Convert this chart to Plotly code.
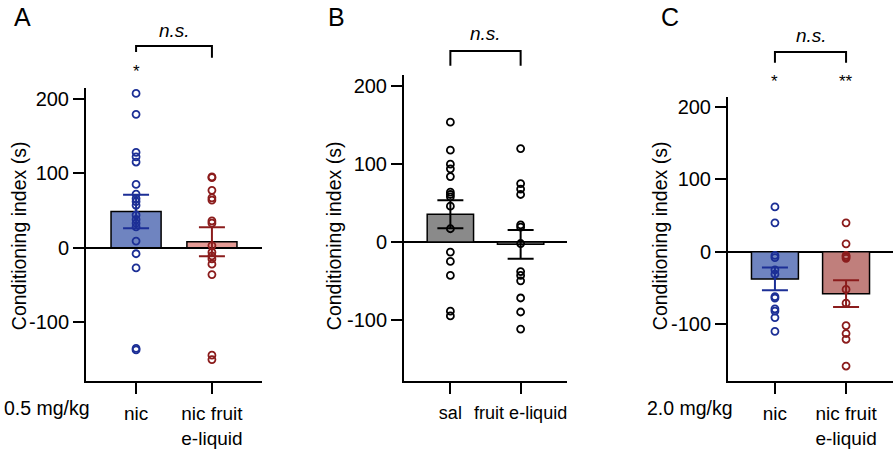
import plotly.graph_objects as go

# ---------------- data ----------------
# Panel A (0.5 mg/kg)
a_categories = ["nic", "nic fruit<br>e-liquid"]
a_nic = [207, 179, 128, 122, 115, 85, 72, 66, 62, 57, 44, 38, 33, 28, 9, -8, -27, -135, -137]
a_nicfruit = [95, 94, 77, 67, 64, 36, 33, 3, -6, -11, -15, -22, -36, -144, -150]
a_means = [48.7, 8.0]
a_sems = [22.5, 19.5]

# Panel B
b_categories = ["sal", "fruit e-liquid"]
b_sal = [154, 118, 100, 94, 84, 64, 61, 58, 46, 17, -13, -25, -43, -89, -95]
b_fruit = [120, 75, 68, 61, 22, 19, -2, -38, -43, -50, -72, -90, -112]
b_means = [35.7, -3.0]
b_sems = [18.0, 18.5]

# Panel C (2.0 mg/kg)
c_categories = ["nic", "nic fruit<br>e-liquid"]
c_nic = [62, 40, -5, -8, -25, -31, -62, -64, -79, -82, -91, -110]
c_nicfruit = [40, 11, -5, -7, -9, -52, -71, -102, -113, -121, -158]
c_means = [-37.5, -58.0]
c_sems = [15.8, 18.5]

y_ticks = [-100, 0, 100, 200]
y_ticktext = ["-100", "0", "100", "200"]
y_range = [-179, 214]
x_range = [-0.66, 1.66]

FONT = "Liberation Sans, Arial, Helvetica, sans-serif"
BLUE_M = "#1c2f96"
RED_M = "#8b1c1c"
BLUE_BAR = "#6f84c0"
RED_BAR_A = "#e59c96"
RED_BAR_C = "#c07f7c"
GRAY_BAR = "#8a8a8a"

W, H = 893, 449


def px_x(p):
    return p / W


def px_y(p):
    return 1 - p / H


fig = go.Figure()

panels = [
    dict(xa="x", ya="y", cats=a_categories, pts=[a_nic, a_nicfruit], means=a_means, sems=a_sems,
         bar_colors=[BLUE_BAR, RED_BAR_A], mk_colors=[BLUE_M, RED_M], err_colors=[BLUE_M, RED_M],
         xdom=[86, 262], ydom=[388, 89], catfont=19),
    dict(xa="x2", ya="y2", cats=b_categories, pts=[b_sal, b_fruit], means=b_means, sems=b_sems,
         bar_colors=[GRAY_BAR, GRAY_BAR], mk_colors=["#000000", "#000000"], err_colors=["#000000", "#000000"],
         xdom=[404, 567], ydom=[388, 76], catfont=18),
    dict(xa="x3", ya="y3", cats=c_categories, pts=[c_nic, c_nicfruit], means=c_means, sems=c_sems,
         bar_colors=[BLUE_BAR, RED_BAR_C], mk_colors=[BLUE_M, RED_M], err_colors=[BLUE_M, RED_M],
         xdom=[728, 893], ydom=[388, 98], catfont=19),
]

for i, p in enumerate(panels):
    xs = [0, 1]
    fig.add_trace(go.Bar(
        x=xs, y=p["means"], xaxis=p["xa"], yaxis=p["ya"], width=0.66,
        marker=dict(color=p["bar_colors"], line=dict(color="black", width=1.5)),
        showlegend=False, hoverinfo="skip"))
    for k in range(2):
        vals = p["pts"][k]
        fig.add_trace(go.Scatter(
            x=[xs[k]] * len(vals), y=vals, xaxis=p["xa"], yaxis=p["ya"], mode="markers",
            marker=dict(symbol="circle-open", size=7, color=p["mk_colors"][k], line=dict(width=1.8)),
            showlegend=False, hoverinfo="skip"))
    for k in range(2):
        fig.add_trace(go.Scatter(
            x=[xs[k]], y=[p["means"][k]], xaxis=p["xa"], yaxis=p["ya"], mode="markers",
            marker=dict(size=0.1, color=p["err_colors"][k], opacity=1),
            error_y=dict(type="data", array=[p["sems"][k]], color=p["err_colors"][k], thickness=2, width=13),
            showlegend=False, hoverinfo="skip"))

    sfx = "" if i == 0 else str(i + 1)
    fig.update_layout(**{
        "xaxis" + sfx: dict(domain=[px_x(p["xdom"][0]), px_x(p["xdom"][1])], range=x_range,
                            anchor="y" + sfx, showline=True, linecolor="black", linewidth=2,
                            ticks="outside", ticklen=11, tickwidth=2, tickcolor="black",
                            tickvals=[0, 1], ticktext=p["cats"], showgrid=False, zeroline=False,
                            ticklabelstandoff=3,
                            tickfont=dict(family=FONT, size=p["catfont"], color="black"), fixedrange=True),
        "yaxis" + sfx: dict(domain=[px_y(p["ydom"][0]), px_y(p["ydom"][1])], range=y_range,
                            anchor="x" + sfx, showline=True, linecolor="black", linewidth=2,
                            ticks="outside", ticklen=11, tickwidth=2, tickcolor="black",
                            tickvals=y_ticks, ticktext=y_ticktext, showgrid=False,
                            zeroline=True, zerolinecolor="black", zerolinewidth=2,
                            tickfont=dict(family=FONT, size=20, color="black"), fixedrange=True),
    })

annotations = []
# y axis titles
for xc in [19, 334, 660]:
    annotations.append(dict(x=px_x(xc), y=px_y(240), xref="paper", yref="paper",
                            text="Conditioning index (s)", textangle=-90, showarrow=False,
                            font=dict(family=FONT, size=19.5, color="black"),
                            xanchor="center", yanchor="middle"))
# panel letters
for letter, xc in [("A", 22), ("B", 336), ("C", 670)]:
    annotations.append(dict(x=px_x(xc), y=px_y(16), xref="paper", yref="paper", text=letter,
                            showarrow=False, font=dict(family=FONT, size=25, color="black"),
                            xanchor="center", yanchor="middle"))
# n.s. labels
for xc, yc in [(174, 30), (485, 33), (811, 35)]:
    annotations.append(dict(x=px_x(xc), y=px_y(yc), xref="paper", yref="paper", text="<i>n.s.</i>",
                            showarrow=False, font=dict(family=FONT, size=19, color="black"),
                            xanchor="center", yanchor="middle"))
# significance stars
for xa, xv, txt, yc in [("x", 0, "*", 72), ("x3", 0, "*", 82), ("x3", 1, "**", 82)]:
    annotations.append(dict(x=xv, y=px_y(yc), xref=xa, yref="paper", text=txt, showarrow=False,
                            font=dict(family=FONT, size=17, color="black"),
                            xanchor="center", yanchor="middle"))
# dose labels
annotations.append(dict(x=px_x(2), y=px_y(415), xref="paper", yref="paper", text="0.5 mg/kg",
                        showarrow=False, font=dict(family=FONT, size=19.5, color="black"),
                        xanchor="left", yanchor="middle"))
annotations.append(dict(x=px_x(645), y=px_y(415), xref="paper", yref="paper", text="2.0 mg/kg",
                        showarrow=False, font=dict(family=FONT, size=19.5, color="black"),
                        xanchor="left", yanchor="middle"))

# brackets
shapes = []
for xa, ytop, yl, yr in [("x", 46, 52, 58), ("x2", 51, 66, 66), ("x3", 52, 63, 63)]:
    shapes.append(dict(type="path", xref=xa, yref="paper",
                       path=f"M 0,{px_y(yl)} L 0,{px_y(ytop)} L 1,{px_y(ytop)} L 1,{px_y(yr)}",
                       line=dict(color="black", width=2)))

fig.update_layout(width=W, height=H, margin=dict(l=0, r=0, t=0, b=0),
                  paper_bgcolor="white", plot_bgcolor="white",
                  annotations=annotations, shapes=shapes, barmode="overlay",
                  font=dict(family=FONT, color="black"))

fig.write_html("out.html", config={"displayModeBar": False, "staticPlot": True},
               post_script="document.body.style.margin='0';document.body.style.padding='0';"
                           "document.body.style.overflow='hidden';")
